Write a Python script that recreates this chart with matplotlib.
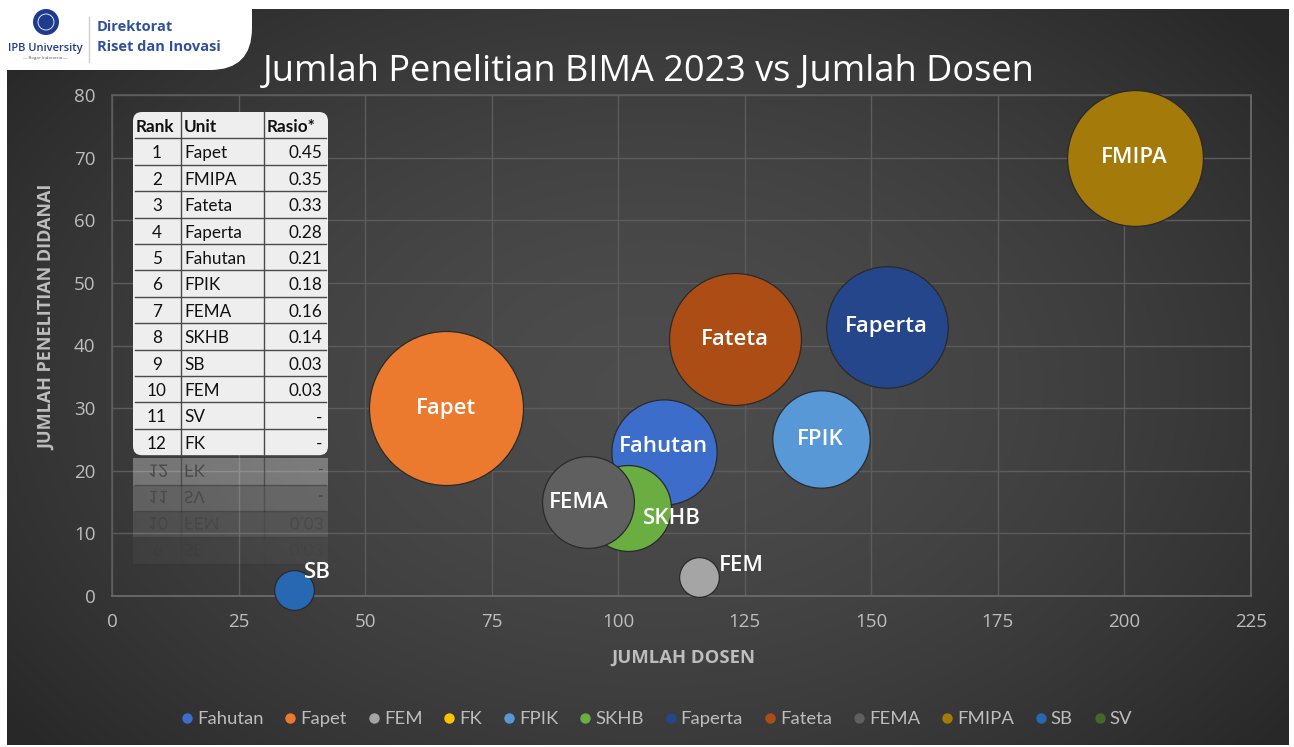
import numpy as np
import matplotlib
matplotlib.use("Agg")
import matplotlib.pyplot as plt
from matplotlib.patches import FancyBboxPatch, Rectangle, Circle, PathPatch
from matplotlib.textpath import TextPath
from matplotlib.font_manager import FontProperties
from matplotlib.lines import Line2D
from matplotlib.path import Path
from matplotlib.colors import to_rgb

# ---------------- data ----------------
units = ["Fahutan", "Fapet", "FEM", "FK", "FPIK", "SKHB", "Faperta", "Fateta",
         "FEMA", "FMIPA", "SB", "SV"]
dosen = [109, 66, 116, np.nan, 140, 102, 153, 123, 94, 202, 36, np.nan]
penelitian = [23, 30, 3, np.nan, 25, 14, 43, 41, 15, 70, 1, np.nan]
rasio_size = [0.21, 0.45, 0.03, 0.0, 0.18, 0.14, 0.28, 0.33, 0.16, 0.35, 0.03, 0.0]
colors = ["#3C6DCA", "#EC7A2E", "#A5A5A5", "#FFC000", "#5898D6", "#6AAE42",
          "#25468B", "#AD4D16", "#5F5F5F", "#A47A0A", "#2868B2", "#43682B"]

rank = [str(i) for i in range(1, 13)]
rank_units = ["Fapet", "FMIPA", "Fateta", "Faperta", "Fahutan", "FPIK", "FEMA",
              "SKHB", "SB", "FEM", "SV", "FK"]
rank_rasio = ["0.45", "0.35", "0.33", "0.28", "0.21", "0.18", "0.16", "0.14",
              "0.03", "0.03", "-", "-"]

xticks = [0, 25, 50, 75, 100, 125, 150, 175, 200, 225]
yticks = [0, 10, 20, 30, 40, 50, 60, 70, 80]

W, H = 1294, 747
fig = plt.figure(figsize=(W / 100, H / 100), dpi=100)
fig.patch.set_facecolor("white")

# ---------------- background ----------------
ax_bg = fig.add_axes([0, 0, 1, 1], zorder=-5)
ax_bg.set_xlim(0, W)
ax_bg.set_ylim(H, 0)
ax_bg.axis("off")
yy, xx = np.mgrid[9:745, 7:1289]
d = np.sqrt(((xx - 650) / 760.0) ** 2 + ((yy - 390) / 520.0) ** 2)
g = np.clip(0.300 - 0.13 * d ** 1.6, 0.16, 0.31)
img = np.dstack([g, g, g])
ax_bg.imshow(img, extent=[7, 1289, 745, 9], origin="upper", aspect="auto",
             interpolation="bilinear", zorder=0)

# logo block
ax_bg.add_patch(FancyBboxPatch((-60, -60), 312, 130,
                               boxstyle="round,pad=0,rounding_size=42",
                               fc="white", ec="none", zorder=2))
ax_bg.add_patch(Circle((46, 22), 13, fc="#1E3C8F", ec="none", zorder=3))
ax_bg.add_patch(Circle((46, 22), 8, fc="none", ec="white", lw=0.6, zorder=4))
ax_bg.text(45, 49, "IPB University", ha="center", va="center", fontsize=8,
           color="#1E3C8F", family="Open Sans", fontweight="semibold", zorder=4)
ax_bg.text(45, 58, "— Bogor Indonesia —", ha="center", va="center",
           fontsize=3.2, color="#555555", family="Open Sans", zorder=4)
ax_bg.plot([89, 89], [17, 62], color="#cfcfcf", lw=1, zorder=4)
ax_bg.text(97, 27, "Direktorat", ha="left", va="center", fontsize=10.5,
           color="#2F4F9F", family="Open Sans", fontweight="bold", zorder=4)
ax_bg.text(97, 47, "Riset dan Inovasi", ha="left", va="center", fontsize=10.5,
           color="#2F4F9F", family="Open Sans", fontweight="bold", zorder=4)

# ---------------- main chart ----------------
ax = fig.add_axes([112 / W, 1 - 596 / H, (1251 - 112) / W, (596 - 95) / H], zorder=1)
ax.set_facecolor("none")
ax.set_xlim(0, 225)
ax.set_ylim(0, 80)
ax.set_xticks(xticks)
ax.set_yticks(yticks)
ax.grid(True, color="#5c5c5c", lw=1.0)
ax.set_axisbelow(True)
for s in ax.spines.values():
    s.set_color("#6e6e6e")
    s.set_linewidth(1.2)
ax.spines["left"].set_color("#5c5c5c")
ax.spines["top"].set_color("#5c5c5c")
ax.tick_params(length=0, colors="#BDBDBD", labelsize=13.5, pad=12)
for lab in ax.get_xticklabels() + ax.get_yticklabels():
    lab.set_family("Open Sans")

K = 27329.0
px_per_y = (596 - 95) / 80.0
for i, u in enumerate(units):
    if np.isnan(dosen[i]) or rasio_size[i] <= 0:
        continue
    s0 = K * rasio_size[i]
    z = 3 + i * 0.01
    ax.scatter([dosen[i]], [penelitian[i]], s=s0, color=colors[i],
               edgecolors="#2a2a2a", linewidths=0.9, zorder=z, clip_on=False)
    # very subtle highlight toward the top
    r_px = np.sqrt(s0) / 2 / 0.72
    base = np.array(to_rgb(colors[i]))
    nl = 14
    for k in range(1, nl + 1):
        f = 1 - k / (nl + 2.0)
        sk = s0 * f ** 2
        shift = (1 - f) * r_px * 0.2 / px_per_y
        ax.scatter([dosen[i]], [penelitian[i] + shift], s=sk,
                   color=np.clip(base + 0.12, 0, 1), alpha=0.03,
                   edgecolors="none", zorder=z + 0.0005 * k, clip_on=False)

label_off = {"SKHB": (44, -10), "SB": (23, 17), "FEM": (42, 12), "FEMA": (-9, 0),
             "Fahutan": (0, 5)}
for i, u in enumerate(units):
    if np.isnan(dosen[i]):
        continue
    dx, dy = label_off.get(u, (0, 0))
    ax.annotate(u, (dosen[i], penelitian[i]), xytext=(dx * 0.72, dy * 0.72),
                textcoords="offset points", ha="center", va="center",
                fontsize=16, color="white", family="Open Sans",
                fontweight="semibold", zorder=10)

fig.text(649 / W, 1 - 72 / H, "Jumlah Penelitian BIMA 2023 vs Jumlah Dosen",
         ha="center", va="center", fontsize=26, color="white", family="Open Sans")
fig.text(683 / W, 1 - 658 / H, "JUMLAH DOSEN", ha="center", va="center",
         fontsize=13.3, color="#BDBDBD", family="Open Sans", fontweight="bold")
fig.text(47 / W, 1 - 317 / H, "JUMLAH PENELITIAN DIDANAI", ha="center", va="center",
         rotation=90, fontsize=13, color="#BDBDBD", family="Open Sans",
         fontweight="bold")

handles = [Line2D([], [], marker="o", ls="none", markersize=7.5, color=c,
                  markeredgecolor="none") for c in colors]
fig.legend(handles, units, loc="center", bbox_to_anchor=(655 / W, 1 - 719 / H),
           ncol=12, frameon=False, handletextpad=0.05, columnspacing=0.95,
           prop=FontProperties(family="Lato", size=13.3), labelcolor="#BDBDBD",
           handlelength=1.0)

# ---------------- table overlay ----------------
ov = fig.add_axes([0, 0, 1, 1], zorder=6)
ov.set_xlim(0, W)
ov.set_ylim(H, 0)
ov.axis("off")
ov.set_facecolor("none")

tx0, tx1, tx2, tx3 = 133, 181, 264, 328
ty0 = 112
rh = 26.4
nrows = 13
ty_end = ty0 + rh * nrows
ov.add_patch(FancyBboxPatch((tx0, ty0), tx3 - tx0, ty_end - ty0,
                            boxstyle="round,pad=0,rounding_size=9",
                            fc="#EEEEEE", ec="none", zorder=1))
line_c = "#4a4a4a"
for r in range(1, nrows):
    y = ty0 + r * rh
    ov.plot([tx0 + 2, tx3 - 2], [y, y], color=line_c, lw=1.0, zorder=2)
for x in (tx1, tx2):
    ov.plot([x, x], [ty0, ty_end], color=line_c, lw=1.0, zorder=2)

fsz = 12.3
header = ["Rank", "Unit", "Rasio*"]
rows = [header] + [[rank[i], rank_units[i], rank_rasio[i]] for i in range(12)]
for r, row in enumerate(rows):
    base = ty0 + r * rh + rh * 0.76
    wt = "bold" if r == 0 else "normal"
    if r == 0:
        ov.text(tx0 + 3, base, row[0], ha="left", va="baseline", fontsize=fsz,
                family="Lato", fontweight=wt, color="#111111", zorder=3)
    else:
        ov.text((tx0 + tx1) / 2, base, row[0], ha="center", va="baseline",
                fontsize=fsz, family="Lato", color="#111111", zorder=3)
    ov.text(tx1 + 3, base, row[1], ha="left", va="baseline", fontsize=fsz,
            family="Lato", fontweight=wt, color="#111111", zorder=3)
    if r == 0:
        ov.text(tx2 + 3, base, row[2], ha="left", va="baseline", fontsize=fsz,
                family="Lato", fontweight=wt, color="#111111", zorder=3)
    else:
        ov.text(tx3 - 6, base, row[2], ha="right", va="baseline", fontsize=fsz,
                family="Lato", color="#111111", zorder=3)

# reflection of the last rows
fp = FontProperties(family="Lato", size=fsz)
gap = 3
axis_y = ty_end + gap / 2
refl_alpha = [0.30, 0.20, 0.11, 0.04]
for k in range(4):
    r = nrows - 1 - k  # rows 12, 11, 10, 9
    top = 2 * axis_y - (ty0 + (r + 1) * rh)
    a = refl_alpha[k]
    ov.add_patch(Rectangle((tx0, top), tx3 - tx0, rh, fc="white", alpha=a,
                           ec="none", zorder=1))
    ov.plot([tx0 + 2, tx3 - 2], [top + rh, top + rh], color="#333333",
            lw=1.0, alpha=a * 1.6, zorder=2)
    for x in (tx1, tx2):
        ov.plot([x, x], [top, top + rh], color="#333333", lw=1.0,
                alpha=min(1, a * 2), zorder=2)
    base = 2 * axis_y - (ty0 + r * rh + rh * 0.76)
    row = rows[r]
    for j, s in enumerate(row):
        tp = TextPath((0, 0), s, size=fsz / 0.72, prop=fp)
        wdt = tp.get_extents().width
        if j == 0:
            x = (tx0 + tx1) / 2 - wdt / 2
        elif j == 1:
            x = tx1 + 3
        else:
            x = tx3 - 6 - wdt
        verts = tp.vertices.copy()
        verts[:, 0] += x
        verts[:, 1] += base
        p = Path(verts, tp.codes)
        ov.add_patch(PathPatch(p, fc="#222222", ec="none", alpha=min(1, a * 1.8),
                               zorder=3))

fig.savefig("out.png", dpi=100, facecolor=fig.get_facecolor())
